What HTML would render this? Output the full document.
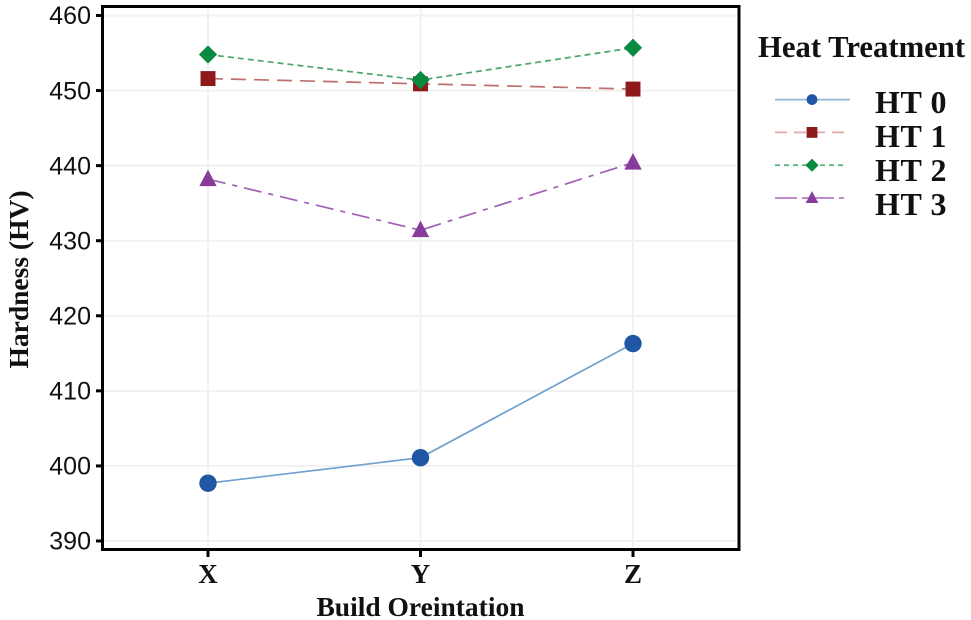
<!DOCTYPE html>
<html>
<head>
<meta charset="utf-8">
<style>
html,body{margin:0;padding:0;background:#fff;}
svg{display:block;}
text{font-family:"Liberation Serif",serif;font-weight:bold;fill:#111;}
.ytick{font-family:"Liberation Sans",sans-serif;font-weight:normal;font-size:25px;}
</style>
</head>
<body>
<svg id="chart" width="971" height="620" viewBox="0 0 971 620" xmlns="http://www.w3.org/2000/svg">
  <g id="grid"></g>
  <g id="series"></g>
  <rect x="102.5" y="6.5" width="636.5" height="543" fill="none" stroke="#000" stroke-width="3"/>
  <g id="axes"></g>
  <text x="420.5" y="616" text-anchor="middle" font-size="27.5">Build Oreintation</text>
  <text transform="translate(28,279.5) rotate(-90)" text-anchor="middle" font-size="27.5">Hardness (HV)</text>
  <text x="758" y="57" font-size="30.7">Heat Treatment</text>
  <g id="legend"></g>
</svg>
<script>
const categories = ['X', 'Y', 'Z'];
const yTicks = [390, 400, 410, 420, 430, 440, 450, 460];
const seriesNames = ['HT 0', 'HT 1', 'HT 2', 'HT 3'];
const ht0Values = [397.7, 401.1, 416.3];
const ht1Values = [451.6, 450.9, 450.2];
const ht2Values = [454.8, 451.4, 455.7];
const ht3Values = [438.2, 431.4, 440.4];
const seriesValues = [ht0Values, ht1Values, ht2Values, ht3Values];

const NS = 'http://www.w3.org/2000/svg';
const styles = [
  {line:'#6f9fcf', legend:'#8fb5da', mark:'#1f57a4', dash:'', shape:'circle'},
  {line:'#bf6f6f', legend:'#e3a8a8', mark:'#8f1a1c', dash:'15 8', shape:'square'},
  {line:'#4fa56f', legend:'#5cb57f', mark:'#0a8a41', dash:'6 4', shape:'diamond'},
  {line:'#a060b5', legend:'#b57cc6', mark:'#873c9c', dash:'18 7 5 7', shape:'triangle'}
];
const legendDash = ['', '12 7', '5 4', '22 5 32 5 5'];
function xScale(i){ return 208 + i * 212.5; }
function yScale(v){ return 541 - (v - 390) * (525.5 / 70); }
function make(tag, attrs, parent){
  const el = document.createElementNS(NS, tag);
  for (const k in attrs) el.setAttribute(k, attrs[k]);
  parent.appendChild(el);
  return el;
}
function marker(shape, x, y, r, color, parent){
  let el;
  if (shape === 'circle') {
    el = make('circle', {cx:x, cy:y, r:r, fill:color}, parent);
  } else if (shape === 'square') {
    el = make('rect', {x:x-r*0.9, y:y-r*0.9, width:r*1.8, height:r*1.8, fill:color}, parent);
  } else if (shape === 'diamond') {
    const d = r * 1.1;
    el = make('polygon', {points:[x,y-d,x+d,y,x,y+d,x-d,y].join(','), fill:color}, parent);
  } else {
    const d = r * 1.05;
    el = make('polygon', {points:[x,y-d*1.1,x+d,y+d*0.8,x-d,y+d*0.8].join(','), fill:color}, parent);
  }
  return el;
}

const gridG = document.getElementById('grid');
const axesG = document.getElementById('axes');
yTicks.forEach(function(t){
  const y = yScale(t);
  const g = make('line', {x1:103, x2:738, y1:y, y2:y, stroke:'#f1f1f1', 'stroke-width':2}, gridG);
  
  
  const tick = make('line', {x1:96, x2:102, y1:y, y2:y, stroke:'#000', 'stroke-width':3}, axesG);
  
  
  const label = make('text', {x:91, y:y+8.7, 'text-anchor':'end', class:'ytick'}, axesG);
  label.textContent = t;
  
  
});
categories.forEach(function(c, i){
  const x = xScale(i);
  const g = make('line', {x1:x, x2:x, y1:8, y2:549, stroke:'#f1f1f1', 'stroke-width':2}, gridG);
  
  
  const tick = make('line', {x1:x, x2:x, y1:551, y2:557, stroke:'#000', 'stroke-width':3}, axesG);
  
  
  const label = make('text', {x:x, y:583, 'text-anchor':'middle', 'font-size':27}, axesG);
  label.textContent = c;
  
  
});

const seriesG = document.getElementById('series');
seriesValues.forEach(function(vals, s){
  const st = styles[s];
  const g = make('g', {}, seriesG);
  
  
  const pts = vals.map(function(v, i){ return xScale(i) + ',' + yScale(v); }).join(' ');
  const attrs = {points:pts, fill:'none', stroke:st.line, 'stroke-width':1.7};
  if (st.dash) attrs['stroke-dasharray'] = st.dash;
  const line = make('polyline', attrs, g);
  
  
  vals.forEach(function(v, i){
    const m = marker(st.shape, xScale(i), yScale(v), s === 0 ? 8.7 : 8.3, st.mark, g);
    
    
  });
});

const legendG = document.getElementById('legend');
seriesNames.forEach(function(n, s){
  const st = styles[s];
  const y = 99.6 + s * 32.8;
  const attrs = {x1:775, x2:s === 0 ? 850 : 845, y1:y, y2:y, stroke:st.legend, 'stroke-width':1.8};
  if (legendDash[s]) attrs['stroke-dasharray'] = legendDash[s];
  const line = make('line', attrs, legendG);
  
  
  const m = marker(st.shape, 812, y, s === 0 ? 5.4 : 6, st.mark, legendG);
  
  
  const t = make('text', {x:875, y:113 + s * 34, 'font-size':32, 'letter-spacing':0.6}, legendG);
  t.textContent = n;
  
  
});
</script>
</body>
</html>
